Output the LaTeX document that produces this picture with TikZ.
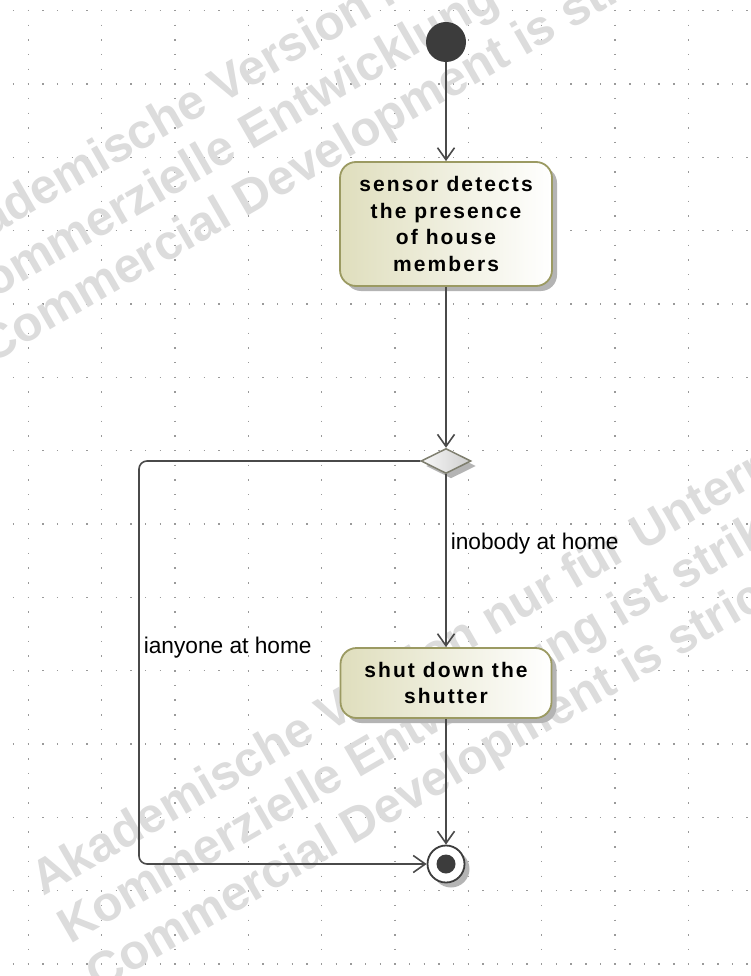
\documentclass[tikz,border=0pt]{standalone}
\usepackage{fontspec}
\setmainfont{Liberation Sans}
\newfontfamily\actfont[LetterSpace=10]{Liberation Sans}
\usetikzlibrary{arrows.meta, positioning, shapes.geometric, shadows}
\definecolor{umlline}{HTML}{4A4A4A}
\definecolor{umldark}{HTML}{3C3C3C}
\definecolor{actleft}{HTML}{DFDEBD}
\definecolor{actborder}{HTML}{9B9A62}
\definecolor{decborder}{HTML}{7E7E6E}
\definecolor{shadowgray}{HTML}{B4B4B4}
\definecolor{markgray}{HTML}{DCDCDC}
\definecolor{gridgray}{HTML}{9A9A9A}
\tikzset{
	flow/.style={draw=umlline, line width=1.6pt, -{Straight Barb[length=12pt,width=17pt]}}, % control flow with open arrow head
	umlshadow/.style={drop shadow={shadow xshift=5pt, shadow yshift=-5pt, fill=shadowgray, opacity=1}}, % grey shadow to the lower right
	action/.style={rectangle, rounded corners=16pt, draw=actborder, line width=1.8pt, left color=actleft, right color=white, umlshadow, align=center, inner sep=0pt, font=\actfont\bfseries\fontsize{21}{26.5}\selectfont}, % sets the look of every action
	initialnode/.style={circle, fill=umldark, minimum size=40pt, inner sep=0pt},
	finalnode/.style={circle, draw=umldark, line width=1.8pt, fill=white, minimum size=37pt, inner sep=0pt, umlshadow,
		path picture={\fill[umldark] (path picture bounding box.center) circle[radius=9.5pt];}},
	decision/.style={diamond, aspect=2, draw=decborder, line width=1.5pt, left color=gray!6, right color=gray!38, minimum width=50pt, minimum height=25pt, inner sep=0pt, umlshadow},
	guard/.style={anchor=west, inner sep=4pt, font=\fontsize{22.7}{26}\selectfont}, % text next to a flow
	watermark/.style={anchor=base west, rotate=30, inner sep=0pt, text=markgray, font=\bfseries\fontsize{49}{55}\selectfont},
	gridline/.style={draw=gridgray, line width=1.4pt, dash pattern=on 1.4pt off 13.27pt},
}
\begin{document}
\begin{tikzpicture}[x=1pt, y=-1pt]
	\useasboundingbox (0,0) rectangle (751,976);
	\clip (0,0) rectangle (751,976);
	\fill[white] (0,0) rectangle (751,976);
	% dotted grid
	\foreach \r in {0,...,13}
		\draw[gridline] (-1.7,10.67+73.33*\r) -- (760,10.67+73.33*\r);
	\foreach \c in {0,...,9}
		\draw[gridline] (28.33+73.33*\c,-4.7) -- (28.33+73.33*\c,985);
	% watermark
	\foreach \wx/\wy [count=\i] in {-64/269, 43/897} {
		\node[watermark] (markA\i) at (\wx,\wy) {Akademische Version nur für Unterrichtszwecke};
		\node[watermark] (markB\i) at (\wx+27.5,\wy+47.6) {Kommerzielle Entwicklung ist strikt untersagt};
		\node[watermark] (markC\i) at (\wx+55,\wy+95.3) {Commercial Development is strictly prohibited};
	}
			\node[initialnode] (start) at (446,42) {};
			\node[action, minimum width=212pt, minimum height=124pt] (detect) at (446,224) {sensor detects\\the presence\\of house\\members};
			\node[decision] (dec) at (446,461) {};
			\node[action, minimum width=211pt, minimum height=70pt] (shut) at (446,683) {shut down the\\shutter};
			\node[finalnode] (final) at (446,864) {};
			\coordinate (bend) at (139,461);
	\draw[flow] (start) -- (detect);
	\draw[flow] (detect) -- (dec);
	\draw[flow] (dec) -- node[guard, pos=0.4] {inobody at home} (shut);
	\draw[flow] (shut) -- (final);
	\draw[flow, rounded corners=8pt] (dec.west) -- (bend) |- node[guard, pos=0.232] {ianyone at home} (final.west);
\end{tikzpicture}
\end{document}
